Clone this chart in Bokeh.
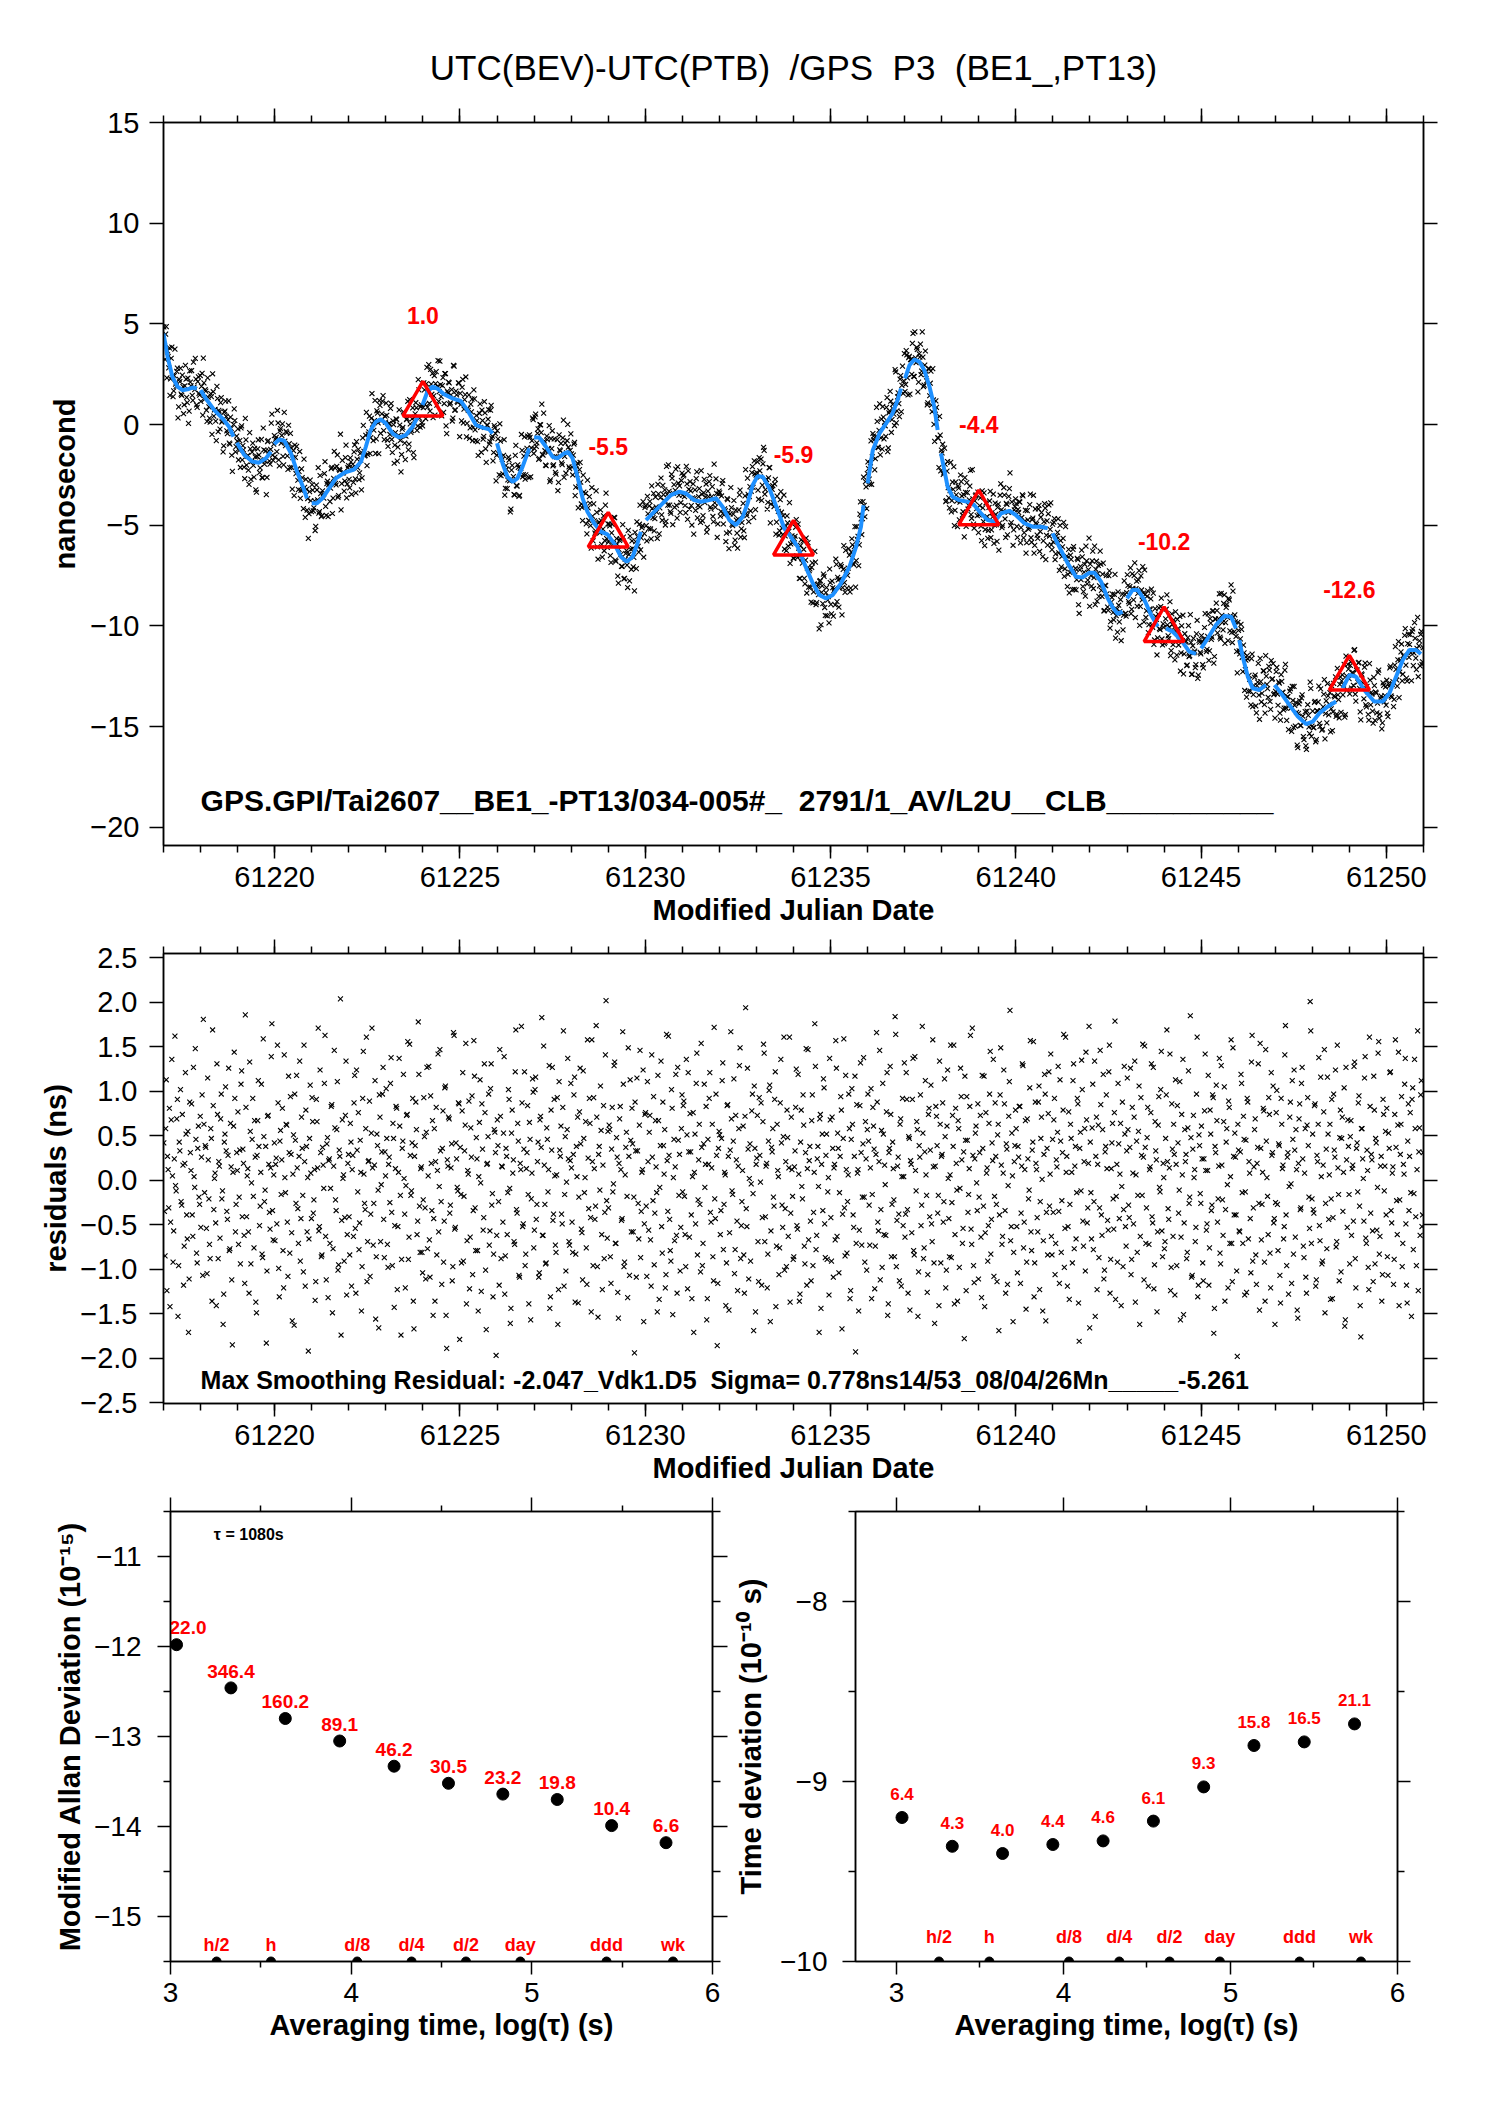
import numpy as np
from bokeh.plotting import figure
from bokeh.layouts import column, row
from bokeh.models import (LinearAxis, Range1d, Label, ColumnDataSource, Title,
                          FixedTicker, CustomJSTickFormatter)
from bokeh.embed import file_html
from bokeh.resources import INLINE
from bokeh.core.properties import value

nan = float("nan")
FONT = "Liberation Sans"
SP2 = " \u00a0"   # double space that survives SVG whitespace collapsing

# ---------------- texts ----------------
title_text = "UTC(BEV)-UTC(PTB)" + SP2 + "/GPS" + SP2 + "P3" + SP2 + "(BE1_,PT13)"
file_text = "GPS.GPI/Tai2607__BE1_-PT13/034-005#_" + SP2 + "2791/1_AV/L2U__CLB__________"
stats_text = "Max Smoothing Residual: -2.047_Vdk1.D5" + SP2 + "Sigma= 0.778ns14/53_08/04/26Mn_____-5.261"
tau0_text = "\u03c4 = 1080s"

# ---------------- smoothed curve (nan = break) ----------------
smooth_mjd = [
    61217.00, 61217.11, 61217.24, 61217.38, 61217.51, 61217.65, 61217.78, 61217.90, nan,
    61218.00, 61218.14, 61218.37, 61218.59, 61218.77, 61218.89, nan,
    61218.98, 61219.18, 61219.40, 61219.58, 61219.76, 61219.90, nan,
    61219.99, 61220.12, 61220.26, 61220.44, 61220.62, 61220.78, 61220.87, nan,
    61221.00, 61221.14, 61221.29, 61221.47, 61221.65, 61221.88, 61222.14, 61222.33, 61222.46, 61222.59, 61222.73, 61222.86,
    61223.00, 61223.18, 61223.36, 61223.54, 61223.72, 61223.86, nan,
    61223.99, 61224.12, 61224.26, 61224.39, 61224.57, 61224.80, 61225.02, 61225.20, 61225.43, 61225.61, 61225.79, 61225.88, nan,
    61226.00, 61226.15, 61226.28, 61226.42, 61226.55, 61226.69, 61226.87, nan,
    61227.00, 61227.14, 61227.32, 61227.50, 61227.63, 61227.81, 61227.92, 61228.04, 61228.17, 61228.31, 61228.44, 61228.62, 61228.80, 61228.98,
    61229.16, 61229.34, 61229.50, 61229.66, 61229.79, 61229.88, nan,
    61230.02, 61230.24, 61230.47, 61230.69, 61230.92, 61231.10, 61231.32, 61231.50, 61231.73, 61231.91,
    61232.09, 61232.27, 61232.45, 61232.63, 61232.76, 61232.90, 61233.03, 61233.17, 61233.35, 61233.57, 61233.75, 61233.93,
    61234.11, 61234.29, 61234.52, 61234.70, 61234.88, 61235.06, 61235.28, 61235.51, 61235.69, 61235.82, 61235.89, nan,
    61236.00, 61236.14, 61236.32, 61236.50, 61236.67, 61236.81, 61236.90, nan,
    61237.01, 61237.13, 61237.26, 61237.40, 61237.53, 61237.67, 61237.80, 61237.89, nan,
    61237.98, 61238.07, 61238.16, 61238.29, 61238.47, 61238.70, 61238.88, 61239.06, 61239.24, 61239.42, 61239.60, 61239.82,
    61240.00, 61240.23, 61240.45, 61240.68, 61240.86, nan,
    61240.99, 61241.17, 61241.40, 61241.62, 61241.80, 61241.98, 61242.12, 61242.30, 61242.48, 61242.62, 61242.75, 61242.88, nan,
    61243.00, 61243.15, 61243.29, 61243.47, 61243.65, 61243.83, nan,
    61244.05, 61244.23, 61244.46, 61244.68, 61244.86, nan,
    61245.00, 61245.18, 61245.40, 61245.63, 61245.81, 61245.94, nan,
    61246.03, 61246.12, 61246.26, 61246.39, 61246.57, 61246.75, nan,
    61246.98, 61247.16, 61247.38, 61247.61, 61247.83, 61248.01, 61248.19, 61248.42, 61248.64, nan,
    61248.82, 61249.00, 61249.18, 61249.40, 61249.67, 61249.90, 61250.08, 61250.26, 61250.44, 61250.62, 61250.80, 61250.93,
]
smooth_ns = [
    4.52, 3.37, 2.37, 1.88, 1.71, 1.75, 1.84, 1.79, nan,
    1.71, 1.30, 0.72, 0.31, -0.11, -0.60, nan,
    -0.90, -1.51, -1.84, -1.89, -1.68, -1.35, nan,
    -0.97, -0.74, -0.80, -1.43, -2.42, -3.17, -3.66, nan,
    -3.91, -3.91, -3.66, -3.17, -2.67, -2.39, -2.23, -1.84, -1.10, -0.27, 0.14, 0.26,
    0.06, -0.44, -0.64, -0.52, -0.11, 0.39, nan,
    0.97, 1.63, 1.88, 1.79, 1.51, 1.30, 1.17, 0.72, -0.02, -0.15, -0.24, -0.44, nan,
    -0.93, -1.93, -2.59, -2.84, -2.67, -2.09, -1.18, nan,
    -0.64, -0.64, -1.10, -1.60, -1.68, -1.43, -1.35, -1.68, -2.59, -3.66, -4.33, -4.90, -5.32, -5.45,
    -5.90, -6.56, -6.81, -6.56, -5.90, -5.32, nan,
    -4.74, -4.33, -3.91, -3.50, -3.33, -3.42, -3.75, -3.83, -3.75, -3.66,
    -4.09, -4.74, -4.99, -4.58, -3.91, -3.00, -2.56, -2.59, -3.17, -4.24, -5.15, -5.57,
    -6.06, -6.89, -7.88, -8.46, -8.63, -8.46, -7.88, -7.06, -6.06, -5.07, -4.00, nan,
    -2.92, -1.27, -0.44, 0.06, 0.55, 1.22, 1.79, nan,
    2.29, 2.95, 3.23, 3.12, 2.70, 1.88, 0.88, -0.27, nan,
    -1.43, -2.26, -3.09, -3.58, -3.75, -3.83, -4.00, -4.41, -4.74, -4.82, -4.41, -4.28,
    -4.49, -4.90, -5.07, -5.07, -5.15, nan,
    -5.40, -6.06, -6.89, -7.55, -7.59, -7.36, -7.36, -7.80, -8.63, -9.10, -9.40, -9.29, nan,
    -8.63, -8.21, -8.21, -8.71, -9.45, -10.03, nan,
    -10.12, -10.28, -10.70, -11.27, -11.39, nan,
    -11.11, -10.61, -9.95, -9.50, -9.54, -10.12, nan,
    -10.70, -11.52, -12.52, -13.09, -13.18, -12.93, nan,
    -12.93, -13.34, -13.92, -14.50, -14.87, -14.75, -14.33, -14.00, -13.75, nan,
    -13.09, -12.43, -12.52, -13.18, -13.75, -13.75, -13.34, -12.52, -11.69, -11.19, -11.19, -11.39,
]

# daily marks (triangles)
mark_mjd = [61224, 61229, 61234, 61239, 61244, 61249]
mark_ns = [1.0, -5.5, -5.9, -4.4, -10.2, -12.6]

# residuals from the smoothed curve (ns), epoch set A, one row per day
residual_ns_a = [
    0.42, -0.85, 1.13, 0.27, -0.31, -1.42, 0.68, 0.05, -0.57, 1.62, -0.12, 0.91, -0.96, 0.33, -0.24, 0.74, -1.18, 0.19, 0.52, -0.66, -1.71, 0.88, 0.11, -0.39, 1.27, -0.08, 0.46, -0.93, 0.61, -0.27,
    -0.53, 0.96, 1.81, -0.14, 0.37, -1.05, 0.23, -0.72, 0.58, -1.36, 0.84, 0.02, -0.48, 1.31, -0.88, 0.16, 0.69, -0.21, -1.62, 0.43, 1.05, -0.35, 0.28, -0.79, 0.64, -1.12, 0.09, 1.44, -0.58, 0.31,
    0.77, -0.19, -0.94, 1.23, 0.35, -0.62, 1.86, -0.41, 0.13, -1.27, 0.55, -0.03, 0.92, -0.76, 0.26, -1.49, 0.67, 0.38, -0.29, 1.08, -0.87, 0.49, -0.11, -1.83, 0.72, 0.18, -0.55, 1.39, -0.34, 0.06,
    -0.68, 0.25, 1.52, -0.99, 0.44, -0.16, 0.81, -1.21, 0.03, 0.63, -0.47, 1.17, -0.82, 0.29, -1.58, 0.51, 0.97, -0.26, 0.14, -0.71, 1.34, -0.43, 0.36, -1.03, 0.21, 0.79, -0.58, -1.92, 0.47, 0.08,
    0.93, -0.37, 0.12, -1.14, 0.66, 1.71, -0.52, 0.31, -0.84, 0.17, 1.09, -0.63, 0.41, -1.32, 0.24, -0.09, 0.85, -0.77, 1.46, -0.22, 0.57, -1.01, 0.34, 2.04, -0.45, 0.02, -0.91, 0.73, -1.29, 0.19,
    -0.41, 0.64, -1.19, 0.28, 0.87, -0.54, 1.24, -0.13, -0.78, 0.45, -1.47, 0.92, 0.07, -0.33, 1.61, -0.69, 0.22, -1.08, 0.53, 0.14, -0.26, 1.12, -0.86, 0.39, -1.66, 0.71, -0.05, 0.97, -0.44, 0.32,
    1.03, -0.72, 0.18, -0.25, 1.38, -0.96, 0.47, -0.51, 0.83, -1.23, 0.09, 0.61, -1.74, 0.36, 1.19, -0.38, -0.06, 0.74, -0.89, 1.53, -0.17, 0.42, -1.36, 0.27, 0.88, -0.61, 1.78, -0.29, 0.13, -0.81,
    -0.22, 0.49, -1.11, 1.27, 0.05, -0.67, 0.95, -0.34, -1.52, 0.58, 0.21, -0.84, 1.42, -0.07, 0.33, -1.17, 0.78, -0.46, 1.06, -1.89, 0.16, 0.69, -0.28, 0.41, -0.97, 1.63, -0.53, 0.24, -0.12, 0.86,
    0.37, -0.93, 1.21, -0.18, 0.62, -1.39, 0.11, 0.89, -0.64, 0.26, -1.06, 1.57, -0.31, 0.48, -0.79, 0.04, 1.13, -1.25, 0.35, -0.42, 0.76, -1.68, 0.19, 0.97, -0.57, 1.31, -0.15, -0.83, 0.54, -1.97,
    0.68, -0.24, 1.47, -0.88, 0.15, 0.53, -1.28, 0.36, -0.61, 1.02, -0.09, -1.44, 0.79, 0.23, -0.72, 1.69, -0.37, 0.44, -1.09, 0.12, 0.87, -0.49, 1.22, -0.83, 0.31, -0.16, 0.65, -1.57, 0.08, 0.99,
    -0.56, 1.16, -0.27, 0.43, -1.04, 0.72, 1.83, -0.62, 0.17, -0.94, 0.59, -0.13, 1.29, -1.31, 0.34, -0.45, 0.91, -0.73, 0.06, -1.62, 1.11, 0.27, -0.38, 0.82, -1.19, 0.49, -0.02, 1.37, -0.69, 0.22,
    0.14, -0.81, 0.96, -1.37, 0.38, 0.71, -0.19, 1.26, -0.55, -1.12, 0.47, 0.03, -0.76, 1.58, -0.32, 0.64, -1.48, 0.21, 0.93, -0.44, 1.74, -0.97, 0.29, -0.11, 0.56, -1.23, 0.84, -0.36, 2.02, -0.65,
    -0.31, 0.57, -1.16, 0.82, -0.04, 1.33, -0.71, 0.26, -1.55, 0.69, 0.12, -0.43, 1.08, -0.92, 0.37, -0.18, 1.49, -1.07, 0.45, 0.81, -0.58, -1.94, 0.33, 1.15, -0.26, 0.62, -0.87, 0.09, 1.24, -0.49,
    0.76, -1.08, 0.21, 0.54, -0.67, 1.41, -0.23, -0.95, 0.67, -0.14, 1.18, -1.34, 0.39, -0.52, 0.88, 0.07, -1.21, 1.64, -0.35, 0.28, -0.79, 1.02, -1.51, 0.46, 0.15, -0.62, 1.27, -0.17, -1.02, 0.58,
    -0.13, 0.89, -0.61, 1.36, -1.22, 0.32, 0.75, -0.39, 0.04, -1.71, 0.52, 1.09, -0.84, 0.23, -0.27, 1.54, -0.96, 0.41, -0.08, 0.83, -1.33, 0.18, 1.21, -0.47, 0.63, -1.13, -0.21, 0.97, -1.86, 0.36,
    0.51, -0.34, 1.12, -0.78, 0.09, -1.41, 0.84, 0.27, -0.59, 1.67, -0.12, 0.44, -1.05, 0.73, -0.46, 0.16, 1.29, -0.88, -0.24, 0.61, -1.27, 1.94, -0.52, 0.35, 0.02, -0.91, 0.78, -0.15, 1.06, -1.48,
    0.25, -0.69, 0.93, -0.02, -1.18, 0.66, 1.43, -0.41, 0.19, -0.83, 1.01, -1.59, 0.37, 0.58, -0.29, 1.22, -0.74, 0.11, -1.06, 0.87, 0.42, -0.53, 1.61, -0.32, -0.97, 0.48, 0.14, -1.37, 0.71, -0.18,
    -0.86, 0.33, 1.25, -0.55, 0.07, -1.28, 0.79, -0.21, 0.62, -0.94, 1.48, 0.13, -0.67, 0.38, -1.13, 0.96, -0.36, 1.76, -0.78, 0.24, -0.07, 0.69, -1.44, 0.52, 1.14, -0.49, 0.28, -0.89, 0.03, 1.37,
    -0.42, 0.71, -1.09, 0.18, 1.57, -0.63, 0.36, -0.14, 0.94, -1.67, 0.47, -0.31, 1.18, -0.82, 0.06, 0.58, -1.24, 1.03, -0.39, 0.27, -1.93, 0.85, 0.12, -0.56, 1.32, -0.73, 0.41, -0.19, 0.66, -1.01,
    0.97, -0.28, 0.14, -1.33, 0.82, 0.35, -0.74, 1.66, -0.47, 0.21, -1.12, 0.56, 1.09, -0.61, -0.05, 0.77, -1.52, 0.31, 1.28, -0.86, 0.43, -0.22, 1.84, -0.97, 0.16, -0.38, 0.63, -1.19, 0.92, 0.04,
    -0.64, 1.21, -0.33, 0.49, -1.46, 0.18, 0.91, -0.79, 1.39, -0.12, 0.57, -1.03, 0.26, -0.51, 1.73, -0.88, 0.32, 0.06, -1.26, 0.74, -0.41, 1.07, -0.69, 0.15, -1.61, 0.83, 0.39, -0.17, 1.34, -0.93,
    0.29, -0.47, 1.14, -1.21, 0.61, 0.02, -0.86, 1.52, -0.25, 0.38, -1.39, 0.81, -0.11, 0.67, -0.98, 1.26, 0.23, -0.54, -1.78, 0.45, 0.94, -0.36, 0.13, 1.63, -0.72, 0.28, -1.15, 0.53, -0.03, 0.86,
    -0.19, 0.73, -1.32, 0.36, 1.17, -0.59, 0.08, -0.91, 0.64, 1.45, -0.44, 0.22, -1.08, 0.87, -0.27, 0.51, -1.69, 0.96, 0.17, -0.63, 1.24, -0.34, 0.41, -1.17, 0.72, 1.91, -0.52, 0.05, -0.81, 0.39,
    0.58, -1.04, 0.26, 0.83, -0.37, 1.31, -0.76, 0.12, -1.45, 0.69, -0.21, 1.04, -0.58, 0.34, 1.56, -0.93, 0.19, -0.42, 0.88, -1.23, 0.47, 0.01, -0.68, 1.19, -1.58, 0.36, 0.75, -0.29, 1.42, -0.84,
    -0.36, 0.92, -0.71, 0.15, 1.28, -1.16, 0.44, -0.23, 0.79, -0.98, 1.61, 0.27, -0.52, -1.34, 0.63, 0.09, 1.12, -0.77, 0.38, -0.14, 0.86, -1.81, 0.54, 1.35, -0.46, 0.21, -1.02, 0.68, -0.31, 1.73,
    0.43, -0.66, 1.08, -0.24, -1.53, 0.71, 0.18, -0.87, 1.46, -0.39, 0.57, -1.11, 0.32, 0.96, -0.45, 1.22, -1.27, 0.13, 0.64, -0.55, 1.79, -0.18, -0.92, 0.41, 0.07, -1.41, 0.88, -0.33, 0.52, -0.74,
    1.15, -0.28, 0.37, -1.06, 0.82, -0.49, 1.34, 0.06, -0.81, 0.55, -1.62, 0.93, -0.17, 0.26, 1.51, -0.71, 0.48, -1.19, 0.12, 0.76, -0.41, 1.27, -0.95, 0.33, -1.48, 0.62, -0.08, 1.02, -0.57, 0.19,
    -0.77, 0.47, 1.69, -0.32, 0.14, -1.24, 0.86, -0.63, 0.29, 1.13, -0.96, 0.42, -0.11, -1.57, 0.74, 1.36, -0.48, 0.21, -0.88, 0.59, -0.26, 1.85, -1.09, 0.35, 0.03, -0.69, 0.97, -1.31, 0.51, -0.15,
    0.61, -0.93, 0.24, 1.42, -0.56, 0.11, -1.18, 0.79, -0.34, 0.96, -1.72, 0.38, 1.07, -0.47, 0.16, -0.82, 1.29, -0.22, 0.66, -1.36, 0.43, -0.05, 0.89, -0.71, 1.58, -1.14, 0.27, 0.53, -0.39, -1.98,
    0.34, -0.58, 1.19, -0.14, 0.72, -1.29, 0.45, 0.92, -0.66, 0.08, -1.04, 1.63, -0.31, 0.57, -0.84, 0.19, 1.31, -1.46, 0.36, -0.27, 0.81, -0.92, 1.47, 0.03, -0.61, 0.74, -1.21, 0.28, 1.06, -0.43,
    -0.25, 1.01, -0.79, 0.39, -1.38, 0.63, 0.17, -0.52, 1.74, -0.96, 0.31, -0.07, 0.88, -1.16, 0.46, 1.24, -0.64, 0.12, -1.55, 0.69, -0.33, 1.09, 0.24, -0.87, 0.58, -1.27, 0.93, -0.19, 2.01, -0.71,
    0.52, -0.37, 0.86, -1.12, 0.21, 1.38, -0.68, 0.04, -0.91, 0.77, -1.49, 0.35, 1.16, -0.44, 0.63, -0.21, -1.33, 0.97, 0.26, -0.75, 1.52, -0.16, 0.48, -1.03, 0.71, 0.09, -1.64, 1.27, -0.53, 0.38,
    -0.94, 0.67, 0.13, -0.46, 1.33, -1.21, 0.42, 0.87, -0.29, -1.76, 0.58, 0.02, 1.15, -0.65, 0.34, -0.98, 1.61, -0.37, 0.23, -1.14, 0.79, 0.47, -0.56, 1.43, -0.83, 0.16, -1.36, 0.91, -0.12, 0.55,
    0.81, -1.07, 0.36, 1.22, -0.48, 0.15, -0.89, 1.58, -0.23, 0.62, -1.41, 0.29, 0.94, -0.71, 0.07, 1.37, -1.18, 0.44, -0.34, 0.76, -1.53, 1.04, -0.15, 0.58, -0.96, 1.68, 0.32, -0.62, 1.12, -0.39,
]

# residuals (ns), interleaved epoch set B, one row per day
residual_ns_b = [
    -0.35, 0.58, -1.24, 0.12, 0.81, -0.47, 1.36, -0.92, 0.24, -0.06, 0.69, -1.53, 0.43, 1.02, -0.28, 0.17, -0.74, 1.21, -0.39, 0.55, -1.11, 0.31, 0.86, -0.63, 0.04, 1.48, -0.82, 0.36, -0.19, 0.72,
    0.26, -1.07, 0.63, 0.39, -0.54, 1.15, -0.21, -0.88, 0.47, 1.69, -0.33, 0.08, -1.41, 0.74, 0.21, -0.65, 0.97, -0.12, -1.28, 0.52, 0.33, -0.44, 1.26, -0.77, 0.15, -1.85, 0.61, 0.92, -0.27, 0.11,
    -0.72, 0.34, 1.08, -0.41, 0.19, -1.16, 0.82, 0.05, -0.58, 1.33, -0.94, 0.46, -0.18, 0.67, -1.37, 0.28, 1.12, -0.51, 0.09, -0.83, 1.59, -0.24, 0.38, -1.02, 0.73, -0.36, 0.14, 1.76, -0.67, 0.42,
    0.18, -0.49, 0.87, -1.31, 0.56, 0.23, -0.79, 1.41, -0.14, 0.62, -1.08, 0.31, 0.94, -0.59, 0.07, -1.63, 0.45, 1.18, -0.32, 0.27, -0.91, 0.71, -0.17, 1.52, -1.19, 0.38, 0.03, -0.66, 1.07, -0.43,
    0.66, -0.22, -1.35, 0.91, 0.14, -0.57, 1.24, -0.86, 0.37, -0.09, 1.63, -1.12, 0.48, 0.22, -0.71, 0.83, -1.49, 0.16, 0.59, -0.34, 1.11, -0.95, 0.27, -1.74, 0.68, 0.06, -0.42, 1.34, -0.61, 0.29,
    -0.84, 0.43, 0.12, -0.63, 1.18, -1.27, 0.34, 0.76, -0.48, 0.09, -0.97, 1.45, -0.26, 0.58, -1.14, 0.21, 0.89, -0.38, 1.71, -0.73, 0.17, -1.56, 0.52, -0.11, 0.96, -0.69, 0.32, 1.27, -0.87, 0.05,
    0.47, -0.98, 0.26, 1.09, -0.36, 0.64, -1.43, 0.13, 0.81, -0.52, 1.37, -0.17, -0.89, 0.44, 0.02, -1.21, 0.73, 1.56, -0.64, 0.28, -0.12, 0.92, -1.67, 0.39, 0.57, -0.46, 1.19, -0.81, 0.15, -1.04,
    0.93, -0.31, 0.54, -0.77, 1.28, -1.09, 0.19, 0.67, -0.43, -1.36, 0.82, 0.11, -0.58, 1.47, -0.24, 0.36, -0.92, 1.04, -1.52, 0.23, 0.71, -0.37, 0.14, -1.13, 1.66, -0.55, 0.42, -0.08, 0.87, -1.79,
    -0.16, 0.78, -0.91, 0.33, 1.54, -0.68, 0.07, -1.22, 0.59, 0.95, -0.34, 1.17, -0.79, 0.24, -1.47, 0.65, -0.03, 0.86, -0.56, 1.31, -1.01, 0.18, 0.49, -0.73, 1.03, -0.28, -1.31, 0.57, 0.31, -0.62,
    0.39, -1.18, 0.72, 0.16, -0.47, 1.39, -0.85, 0.27, -0.14, 0.91, -1.61, 0.53, 0.08, -0.69, 1.22, -0.33, 0.64, -1.07, 0.19, 1.73, -0.52, 0.35, -0.96, 0.13, 0.84, -1.39, 0.46, -0.21, 1.14, -0.76,
    1.02, -0.44, 0.21, -1.09, 0.68, 0.37, -0.62, 1.51, -0.27, -0.93, 0.46, 0.12, -1.44, 0.79, 1.27, -0.38, 0.05, -0.81, 0.93, -1.23, 0.34, 0.61, -0.49, 1.68, -0.16, -1.02, 0.57, 0.24, -0.73, 1.09,
    -0.47, 0.29, 1.16, -0.83, 0.04, -1.38, 0.77, 0.41, -0.59, 1.23, -0.14, 0.66, -1.17, 0.25, 0.92, -0.42, 1.58, -0.96, 0.13, -0.29, 0.71, -1.54, 0.38, 1.06, -0.61, 0.17, -0.88, 1.41, -0.23, 0.55,
    0.62, -0.86, 0.35, -0.13, 1.29, -0.71, 0.48, -1.26, 0.19, 0.83, -0.45, 1.67, -0.97, 0.06, 0.54, -1.32, 0.27, 1.13, -0.58, 0.41, -0.19, 0.88, -1.09, 0.33, -0.66, 1.46, -0.35, 0.12, -1.59, 0.74,
    -0.29, 1.11, -0.56, 0.73, -1.19, 0.26, 0.94, -0.37, 0.15, -1.48, 0.67, -0.08, 1.34, -0.82, 0.39, 0.57, -1.06, 0.22, 1.62, -0.44, -0.91, 0.81, 0.03, -0.68, 1.19, -1.27, 0.45, 0.29, -0.53, 0.96,
    0.84, -0.18, -0.97, 0.51, 1.21, -0.64, 0.32, -1.33, 0.76, 0.09, -0.49, 1.43, -0.22, 0.63, -1.03, 0.37, -0.71, 1.08, 0.18, -1.57, 0.46, 0.92, -0.36, 0.14, -0.86, 1.72, -0.43, 0.28, -1.16, 0.55,
    -0.61, 0.47, 1.32, -0.27, 0.06, -0.93, 0.85, -1.46, 0.34, 0.69, -0.16, 1.14, -0.78, 0.23, -1.24, 0.58, 1.49, -0.51, 0.11, -0.84, 0.72, -0.32, 1.26, -1.11, 0.41, -0.04, 0.97, -1.69, 0.36, 0.18,
    0.73, -1.14, 0.28, 0.87, -0.42, 1.53, -0.69, 0.16, -1.21, 0.44, 1.07, -0.57, 0.32, -0.19, 0.91, -1.42, 0.63, 0.04, -0.76, 1.36, -0.28, 0.49, -1.01, 0.21, 0.79, -0.63, 1.61, -0.37, 0.12, -0.89,
    0.15, 0.82, -0.51, 1.19, -1.36, 0.43, -0.07, 0.96, -0.74, 0.31, -1.18, 1.47, 0.22, -0.46, 0.67, -0.96, 0.09, 1.28, -0.62, 0.38, -1.71, 0.74, 0.18, -0.34, 1.04, -0.87, 0.52, -0.13, -1.29, 0.68,
    -0.91, 0.36, 0.14, -0.67, 1.26, 0.53, -1.04, 0.27, 0.79, -0.38, 1.59, -0.85, 0.12, -0.24, 0.97, -1.33, 0.46, 0.63, -0.53, 1.17, -0.71, 0.08, -1.47, 0.84, 0.31, -0.19, 1.38, -0.92, 0.24, 0.57,
    0.44, -0.73, 1.03, -0.16, 0.61, -1.22, 0.29, 0.88, -0.57, 1.46, -0.33, -0.98, 0.52, 0.17, -0.62, 1.21, -1.39, 0.36, 0.74, -0.27, 0.13, -0.86, 1.64, -0.45, 0.26, -1.13, 0.69, 0.04, -0.51, 1.32,
    -0.38, 0.91, -1.27, 0.47, 0.22, -0.59, 1.37, -0.84, 0.11, 0.66, -1.53, 0.39, 0.96, -0.28, 0.53, -0.76, 1.12, -0.17, -1.06, 0.81, 0.34, -0.49, 1.58, -0.93, 0.16, 0.72, -0.37, -1.41, 0.63, 0.27,
    0.87, -0.24, 0.49, -1.01, 1.24, -0.43, 0.06, -0.87, 0.73, 1.52, -0.61, 0.19, -1.36, 0.58, -0.09, 0.94, -0.71, 0.32, 1.17, -1.24, 0.45, -0.16, 0.83, -0.55, 1.71, -0.96, 0.24, 0.61, -0.34, -1.11,
    0.31, -0.64, 1.18, -0.29, -1.42, 0.76, 0.14, -0.51, 0.97, -0.83, 0.42, 1.36, -0.18, 0.27, -1.14, 0.63, -0.39, 1.49, -0.72, 0.08, 0.86, -1.27, 0.35, -0.06, 1.11, -0.68, 0.53, -1.59, 0.21, 0.79,
    -0.52, 0.38, 0.83, -1.16, 0.16, 1.29, -0.47, 0.67, -0.92, 0.24, -0.11, 1.57, -0.79, 0.43, -1.31, 0.88, 0.12, -0.58, 1.06, -0.24, 0.71, -1.47, 0.29, 0.97, -0.36, -0.84, 1.22, 0.07, -0.63, 0.46,
    0.68, -1.06, 0.23, 0.54, -0.35, 1.13, -0.81, 0.31, 1.64, -0.54, 0.09, -1.19, 0.77, -0.27, 0.47, -0.93, 1.31, 0.16, -0.66, 0.92, -1.38, 0.36, -0.12, 1.02, -0.74, 0.58, 1.44, -0.48, 0.19, -1.66,
    -0.14, 0.59, -0.78, 1.34, 0.27, -1.23, 0.62, -0.31, 0.85, -0.62, 1.19, -1.01, 0.38, 0.13, -0.56, 1.52, -0.89, 0.42, -0.21, 0.76, -1.34, 0.18, 1.09, -0.43, 0.64, -0.07, -0.97, 1.28, -0.52, 0.33,
    0.57, -0.42, 1.26, -0.89, 0.08, 0.71, -1.37, 0.44, -0.17, 1.06, -0.63, 0.28, 1.53, -1.12, 0.37, -0.31, 0.82, -0.72, 0.15, 1.31, -0.48, -1.22, 0.66, 0.23, -0.58, 0.94, -0.13, 1.45, -0.86, 0.03,
    -0.69, 0.96, 0.21, -0.44, 1.42, -0.98, 0.35, 0.63, -1.29, 0.18, 0.84, -0.37, 1.11, -0.64, 0.06, -1.51, 0.57, 0.29, -0.81, 1.23, -0.19, 0.48, -1.07, 0.73, 0.12, -0.53, 1.61, -1.18, 0.39, -0.26,
    0.24, -1.13, 0.78, 0.11, -0.49, 1.18, -0.76, 0.52, -0.28, 0.93, -1.44, 0.31, 0.67, -0.21, 1.37, -0.94, 0.17, -0.62, 1.05, -0.33, 0.58, -1.21, 0.82, 0.04, -0.71, 1.49, -0.39, 0.26, -1.02, 0.63,
    -0.57, 0.32, 1.09, -0.71, 0.46, -0.13, -1.26, 0.88, 0.21, -0.43, 1.33, -0.91, 0.15, 0.69, -1.17, 0.37, -0.26, 1.54, -0.67, 0.09, 0.78, -1.36, 0.44, -0.18, 0.93, -0.82, 1.21, 0.31, -0.48, -1.62,
    0.76, -0.27, 0.41, -1.07, 0.92, 0.13, -0.66, 1.41, -0.39, 0.26, -1.28, 0.71, -0.04, 1.12, -0.83, 0.34, 0.57, -1.46, 0.19, 0.86, -0.31, 1.27, -0.74, 0.08, -1.09, 0.62, 0.39, -0.54, 1.68, -0.21,
    -0.33, 0.84, -1.19, 0.28, 0.63, -0.51, 1.16, -0.94, 0.17, 1.47, -0.26, -0.77, 0.52, 0.06, -1.34, 0.91, -0.42, 0.34, 1.24, -0.69, 0.14, -1.13, 0.79, 0.47, -0.35, 1.04, -1.57, 0.23, 0.68, -0.16,
    0.49, -0.62, 0.17, 1.28, -0.88, 0.36, -0.13, 0.95, -1.41, 0.58, 0.24, -0.46, 1.39, -0.71, 0.11, -1.23, 0.83, 0.29, -0.57, 1.17, -0.94, 0.42, -0.08, 1.56, -0.63, 0.27, -1.06, 0.74, 0.16, -0.39,
    -0.86, 0.53, 1.21, -0.34, 0.08, -1.17, 0.74, 0.37, -0.61, 1.44, -0.22, 0.63, -0.97, 0.18, 1.08, -0.49, -1.38, 0.86, 0.27, -0.14, 0.91, -0.78, 1.36, -0.41, 0.12, -1.24, 0.59, 0.96, -0.52, 0.31,
]

# stability analysis
tau_s = [1080, 2160, 4320, 8640, 17280, 34560, 69120, 138240, 276480, 552960]
log_mdev = [-11.98, -12.46, -12.80, -13.05, -13.33, -13.52, -13.64, -13.70, -13.99, -14.18]
mdev_note = [22.0, 346.4, 160.2, 89.1, 46.2, 30.5, 23.2, 19.8, 10.4, 6.6]
log_tdev = [-9.20, -9.36, -9.40, -9.35, -9.33, -9.22, -9.03, -8.80, -8.78, -8.68]
tdev_note = [6.4, 4.3, 4.0, 4.4, 4.6, 6.1, 9.3, 15.8, 16.5, 21.1]
interval_name = ["h/2", "h", "d/8", "d/4", "d/2", "day", "ddd", "wk"]
interval_s = [1800, 3600, 10800, 21600, 43200, 86400, 259200, 604800]

# axes
mjd_range = (61217.0, 61251.0)
ns_range = (-20.9, 15.0)
res_range = (-2.51, 2.55)
mdev_range = (-15.5, -10.5)
tdev_range = (-10.0, -7.5)
mdev_x_range = (3.0, 6.0)
tdev_x_range = (2.755, 6.0)
mjd_major = [61220, 61225, 61230, 61235, 61240, 61245, 61250]
mjd_minor = list(range(61217, 61252))
ns_major = [-20, -15, -10, -5, 0, 5, 10, 15]
res_major = [-2.5, -2.0, -1.5, -1.0, -0.5, 0.0, 0.5, 1.0, 1.5, 2.0, 2.5]
log_major = [3, 4, 5, 6]
log_minor = [3.5, 4.5, 5.5]
mdev_major = [-15, -14, -13, -12, -11]
mdev_minor = [-15.5, -14.5, -13.5, -12.5, -11.5, -10.5]
tdev_major = [-10, -9, -8]
tdev_minor = [-9.5, -8.5, -7.5]

# ---------------- derived ----------------
sm_m = np.array(smooth_mjd, dtype=float)
sm_v = np.array(smooth_ns, dtype=float)
ok = ~np.isnan(sm_m)
res_a = np.array(residual_ns_a, dtype=float)
res_b = np.array(residual_ns_b, dtype=float)
span = mjd_range[1] - mjd_range[0]
t_a = mjd_range[0] + (np.arange(len(res_a)) + 0.25) * span / len(res_a)
t_b = mjd_range[0] + (np.arange(len(res_b)) + 0.75) * span / len(res_b)
obs_mjd = np.concatenate([t_a, t_b])
res = np.concatenate([res_a, res_b])
obs_ns = np.interp(obs_mjd, sm_m[ok], sm_v[ok]) + res

log_tau = np.log10(np.array(tau_s, dtype=float))
log_int = np.log10(np.array(interval_s, dtype=float))

INT_FMT = "return (tick < 0 ? '\\u2212' : '') + Math.abs(tick).toFixed(0);"
DEC_FMT = "return (tick < 0 ? '\\u2212' : '') + Math.abs(tick).toFixed(1);"
NO_FMT = "return '';"


def add_axis(p, side, ticks, minor, tout, mout, code=None, label=None,
             lstd=8, alstd=6, fsize="29px"):
    ax = LinearAxis(ticker=FixedTicker(ticks=ticks, minor_ticks=minor))
    ax.axis_line_color = "black"
    ax.axis_line_width = 1.5
    ax.major_tick_in = 0
    ax.major_tick_out = tout
    ax.minor_tick_in = 0
    ax.minor_tick_out = mout
    ax.major_tick_line_color = "black"
    ax.major_tick_line_width = 1.5
    ax.minor_tick_line_color = "black"
    ax.minor_tick_line_width = 1.5
    if code is None:
        ax.formatter = CustomJSTickFormatter(code=NO_FMT)
        ax.major_label_text_font_size = "0px"
        ax.major_label_standoff = 0
    else:
        ax.formatter = CustomJSTickFormatter(code=code)
        ax.major_label_text_font = FONT
        ax.major_label_text_font_size = fsize
        ax.major_label_text_color = "black"
        ax.major_label_standoff = lstd
    if label:
        ax.axis_label = label
        ax.axis_label_text_font = FONT
        ax.axis_label_text_font_style = "bold"
        ax.axis_label_text_font_size = "29px"
        ax.axis_label_text_color = "black"
        ax.axis_label_standoff = alstd
    p.add_layout(ax, side)
    return ax


def make_fig(xr, yr, fw, fh, bl, br, bt, bb):
    p = figure(frame_width=fw, frame_height=fh,
               x_range=Range1d(*xr), y_range=Range1d(*yr),
               x_axis_type=None, y_axis_type=None,
               output_backend="svg", toolbar_location=None,
               min_border_left=bl, min_border_right=br,
               min_border_top=bt, min_border_bottom=bb,
               background_fill_color="white", border_fill_color="white")
    p.outline_line_color = "black"
    p.outline_line_width = 1.5
    return p


# ---------------- panel 1: time series ----------------
p1 = make_fig(mjd_range, ns_range, 1260, 723, 163, 57, 122, 86)
add_axis(p1, "below", mjd_major, mjd_minor, 13, 7, "return tick.toFixed(0);",
         "Modified Julian Date", lstd=8, alstd=4)
add_axis(p1, "above", mjd_major, mjd_minor, 14, 7)
add_axis(p1, "left", ns_major, [], 14, 0, INT_FMT, "nanosecond", lstd=10, alstd=6)
add_axis(p1, "right", ns_major, [], 14, 0)
p1.add_layout(Title(text=title_text, align="center", text_font=FONT,
                    text_font_size="35px", text_font_style="normal",
                    text_color="black", standoff=43), "above")

p1.scatter(obs_mjd, obs_ns, marker="x", size=7, line_color="black", line_width=1.1)
p1.line(smooth_mjd, smooth_ns, line_color="#1E90FF", line_width=4)
p1.scatter(mark_mjd, mark_ns, marker="triangle", size=40, fill_color=None,
           line_color="red", line_width=3.5)
mark_src = ColumnDataSource(dict(x=mark_mjd, y=[v + 4.4 for v in mark_ns],
                                 t=[f"{v:.1f}" for v in mark_ns]))
p1.text("x", "y", text="t", source=mark_src, text_font=value(FONT),
        text_font_style="bold", text_font_size="23px", text_color="red",
        text_align="center", text_baseline="middle")
p1.add_layout(Label(x=61218.0, y=-18.65, text=file_text, text_font=FONT,
                    text_font_size="30px", text_font_style="bold", text_color="black",
                    text_align="left", text_baseline="middle"))

# ---------------- panel 2: residuals ----------------
p2 = make_fig(mjd_range, res_range, 1260, 450, 163, 57, 22, 86)
add_axis(p2, "below", mjd_major, mjd_minor, 13, 7, "return tick.toFixed(0);",
         "Modified Julian Date", lstd=8, alstd=4)
add_axis(p2, "above", mjd_major, mjd_minor, 14, 7)
add_axis(p2, "left", res_major, [], 14, 0, DEC_FMT, "residuals (ns)", lstd=12, alstd=5)
add_axis(p2, "right", res_major, [], 14, 0)
p2.scatter(obs_mjd, res, marker="x", size=7, line_color="black", line_width=1.1)
p2.add_layout(Label(x=61218.0, y=-2.25, text=stats_text, text_font=FONT,
                    text_font_size="25px", text_font_style="bold", text_color="black",
                    text_align="left", text_baseline="middle"))

# ---------------- panel 3: modified Allan deviation ----------------
p3 = make_fig(mdev_x_range, mdev_range, 542, 450, 170, 20, 22, 95)
add_axis(p3, "below", log_major, log_minor, 13, 6, "return tick.toFixed(0);",
         "Averaging time, log(\u03c4) (s)", lstd=8, alstd=4, fsize="28px")
add_axis(p3, "above", log_major, log_minor, 14, 6)
add_axis(p3, "left", mdev_major, mdev_minor, 13, 7, INT_FMT,
         "Modified Allan Deviation (10\u207b\u00b9\u2075)", lstd=16, alstd=5, fsize="28px")
add_axis(p3, "right", mdev_major, mdev_minor, 15, 8)
src3 = ColumnDataSource(dict(x=log_tau, y=log_mdev,
                             ly=[v + 0.187 for v in log_mdev],
                             t=[f"{v:.1f}" for v in mdev_note],
                             xo=[11.5] + [0] * (len(log_mdev) - 1)))
p3.scatter("x", "y", source=src3, size=12, color="black")
p3.text("x", "ly", text="t", x_offset="xo", source=src3, text_font=value(FONT),
        text_font_style="bold", text_font_size="19px", text_color="red",
        text_align="center", text_baseline="middle")
src3b = ColumnDataSource(dict(x=log_int, y=[mdev_range[0]] * len(log_int),
                              ly=[mdev_range[0] + 0.178] * len(log_int), t=interval_name))
p3.scatter("x", "y", source=src3b, size=9, color="black")
p3.text("x", "ly", text="t", source=src3b, text_font=value(FONT),
        text_font_style="bold", text_font_size="18px", text_color="red",
        text_align="center", text_baseline="middle")
p3.add_layout(Label(x=3.24, y=-10.75, text=tau0_text, text_font=FONT,
                    text_font_size="16px", text_font_style="bold", text_color="black",
                    text_align="left", text_baseline="middle"))

# ---------------- panel 4: time deviation ----------------
p4 = make_fig(tdev_x_range, tdev_range, 542, 450, 122, 84, 22, 95)
add_axis(p4, "below", log_major, log_minor, 13, 6, "return tick.toFixed(0);",
         "Averaging time, log(\u03c4) (s)", lstd=8, alstd=4, fsize="28px")
add_axis(p4, "above", log_major, log_minor, 14, 6)
add_axis(p4, "left", tdev_major, tdev_minor, 13, 7, INT_FMT,
         "Time deviation (10\u207b\u00b9\u2070 s)", lstd=15, alstd=10, fsize="28px")
add_axis(p4, "right", tdev_major, tdev_minor, 13, 7)
src4 = ColumnDataSource(dict(x=log_tau, y=log_tdev,
                             ly=[v + 0.131 for v in log_tdev],
                             t=[f"{v:.1f}" for v in tdev_note]))
p4.scatter("x", "y", source=src4, size=12, color="black")
p4.text("x", "ly", text="t", source=src4, text_font=value(FONT),
        text_font_style="bold", text_font_size="17px", text_color="red",
        text_align="center", text_baseline="middle")
src4b = ColumnDataSource(dict(x=log_int, y=[tdev_range[0]] * len(log_int),
                              ly=[tdev_range[0] + 0.138] * len(log_int), t=interval_name))
p4.scatter("x", "y", source=src4b, size=9, color="black")
p4.text("x", "ly", text="t", source=src4b, text_font=value(FONT),
        text_font_style="bold", text_font_size="18px", text_color="red",
        text_align="center", text_baseline="middle")

layout = column(p1, p2, row(p3, p4))
with open("out.html", "w", encoding="utf-8") as f:
    f.write(file_html(layout, INLINE))
